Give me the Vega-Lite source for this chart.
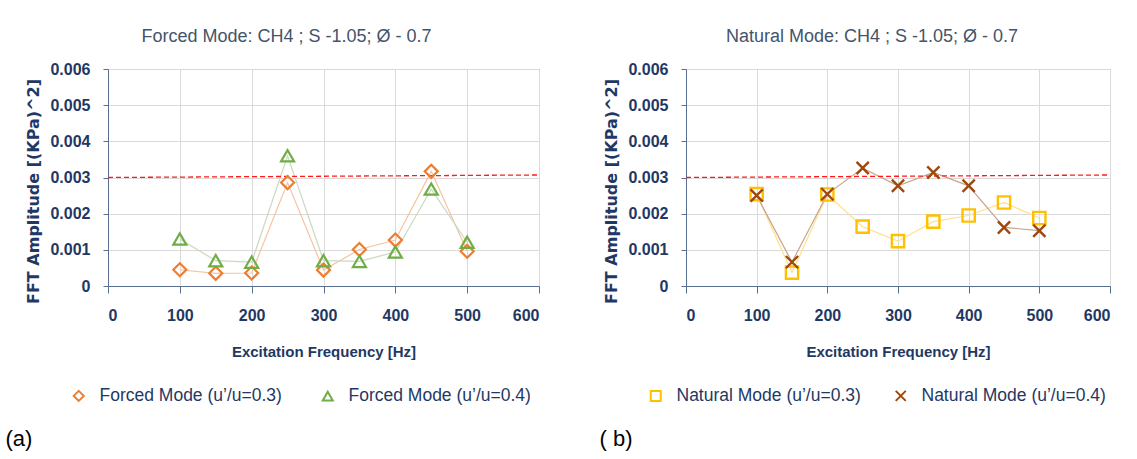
{
  "$schema": "https://vega.github.io/schema/vega-lite/v6.json",
  "background": "white",
  "padding": {"left": 5, "top": 27, "right": 5, "bottom": 2},
  "datasets": {
    "pts": [
      {"panel": "a", "series": "Forced Mode (u’/u=0.3)", "freq": 100, "amp": 0.00045},
      {"panel": "a", "series": "Forced Mode (u’/u=0.3)", "freq": 150, "amp": 0.00035},
      {"panel": "a", "series": "Forced Mode (u’/u=0.3)", "freq": 200, "amp": 0.00036},
      {"panel": "a", "series": "Forced Mode (u’/u=0.3)", "freq": 250, "amp": 0.00286},
      {"panel": "a", "series": "Forced Mode (u’/u=0.3)", "freq": 300, "amp": 0.00044},
      {"panel": "a", "series": "Forced Mode (u’/u=0.3)", "freq": 350, "amp": 0.00101},
      {"panel": "a", "series": "Forced Mode (u’/u=0.3)", "freq": 400, "amp": 0.00127},
      {"panel": "a", "series": "Forced Mode (u’/u=0.3)", "freq": 450, "amp": 0.00317},
      {"panel": "a", "series": "Forced Mode (u’/u=0.3)", "freq": 500, "amp": 0.00096},
      {"panel": "a", "series": "Forced Mode (u’/u=0.4)", "freq": 100, "amp": 0.0013},
      {"panel": "a", "series": "Forced Mode (u’/u=0.4)", "freq": 150, "amp": 0.0007},
      {"panel": "a", "series": "Forced Mode (u’/u=0.4)", "freq": 200, "amp": 0.00066},
      {"panel": "a", "series": "Forced Mode (u’/u=0.4)", "freq": 250, "amp": 0.0036},
      {"panel": "a", "series": "Forced Mode (u’/u=0.4)", "freq": 300, "amp": 0.0007},
      {"panel": "a", "series": "Forced Mode (u’/u=0.4)", "freq": 350, "amp": 0.00068},
      {"panel": "a", "series": "Forced Mode (u’/u=0.4)", "freq": 400, "amp": 0.00094},
      {"panel": "a", "series": "Forced Mode (u’/u=0.4)", "freq": 450, "amp": 0.00268},
      {"panel": "a", "series": "Forced Mode (u’/u=0.4)", "freq": 500, "amp": 0.00121},
      {"panel": "b", "series": "Natural Mode (u’/u=0.3)", "freq": 100, "amp": 0.00254},
      {"panel": "b", "series": "Natural Mode (u’/u=0.3)", "freq": 150, "amp": 0.00037},
      {"panel": "b", "series": "Natural Mode (u’/u=0.3)", "freq": 200, "amp": 0.00253},
      {"panel": "b", "series": "Natural Mode (u’/u=0.3)", "freq": 250, "amp": 0.00164},
      {"panel": "b", "series": "Natural Mode (u’/u=0.3)", "freq": 300, "amp": 0.00124},
      {"panel": "b", "series": "Natural Mode (u’/u=0.3)", "freq": 350, "amp": 0.00178},
      {"panel": "b", "series": "Natural Mode (u’/u=0.3)", "freq": 400, "amp": 0.00195},
      {"panel": "b", "series": "Natural Mode (u’/u=0.3)", "freq": 450, "amp": 0.00231},
      {"panel": "b", "series": "Natural Mode (u’/u=0.3)", "freq": 500, "amp": 0.00188},
      {"panel": "b", "series": "Natural Mode (u’/u=0.4)", "freq": 100, "amp": 0.0025},
      {"panel": "b", "series": "Natural Mode (u’/u=0.4)", "freq": 150, "amp": 0.00066},
      {"panel": "b", "series": "Natural Mode (u’/u=0.4)", "freq": 200, "amp": 0.00254},
      {"panel": "b", "series": "Natural Mode (u’/u=0.4)", "freq": 250, "amp": 0.00326},
      {"panel": "b", "series": "Natural Mode (u’/u=0.4)", "freq": 300, "amp": 0.00277},
      {"panel": "b", "series": "Natural Mode (u’/u=0.4)", "freq": 350, "amp": 0.00314},
      {"panel": "b", "series": "Natural Mode (u’/u=0.4)", "freq": 400, "amp": 0.00277},
      {"panel": "b", "series": "Natural Mode (u’/u=0.4)", "freq": 450, "amp": 0.00162},
      {"panel": "b", "series": "Natural Mode (u’/u=0.4)", "freq": 500, "amp": 0.00153}
    ],
    "ref": [
      {"freq": 0, "freq2": 600, "amp": 0.003, "amp2": 0.00307}
    ]
  },
  "config": {
    "font": "Liberation Sans, Arial, sans-serif",
    "view": {"stroke": "#8EA0BE", "strokeWidth": 1},
    "axis": {
      "labelFont": "Liberation Sans, Arial, sans-serif",
      "labelFontSize": 16,
      "labelFontWeight": "bold",
      "labelColor": "#1F3864",
      "labelOverlap": false,
      "titleFont": "Liberation Sans, Arial, sans-serif",
      "titleFontSize": 15,
      "titleFontWeight": "bold",
      "titleColor": "#1F3864",
      "domainColor": "#5A6E92",
      "tickColor": "#5A6E92",
      "gridColor": "#DADADA"
    },
    "axisX": {"tickSize": 7, "labelPadding": 14, "titlePadding": 21},
    "axisY": {"tickSize": 5, "labelPadding": 13, "titlePadding": 8, "titleFont": "DejaVu Sans", "titleFontSize": 16},
    "legend": {
      "labelFont": "Liberation Sans, Arial, sans-serif",
      "labelFontSize": 17.5,
      "labelColor": "#1F3864",
      "labelLimit": 300,
      "labelOffset": 12,
      "symbolStrokeWidth": 2,
      "symbolSize": 100
    },
    "title": {
      "font": "Liberation Sans, Arial, sans-serif",
      "fontSize": 18,
      "fontWeight": "normal",
      "color": "#44546A"
    }
  },
  "spacing": 58,
  "hconcat": [
    {
      "title": {"text": "(a)", "orient": "bottom", "anchor": "start", "frame": "bounds", "fontSize": 22, "color": "#000000", "offset": 24, "dx": -20},
      "vconcat": [
        {
          "width": 431,
          "height": 217,
          "title": {"text": "Forced Mode: CH4 ; S -1.05; Ø - 0.7", "dx": -37, "offset": 15},
          "encoding": {
            "x": {"field": "freq", "type": "quantitative", "scale": {"domain": [0, 600]}, "axis": {"values": [0, 100, 200, 300, 400, 500, 600], "title": "Excitation Frequency [Hz]"}},
            "y": {"field": "amp", "type": "quantitative", "scale": {"domain": [0, 0.006]}, "axis": {"values": [0, 0.001, 0.002, 0.003, 0.004, 0.005, 0.006], "labelExpr": "datum.value == 0 ? '0' : format(datum.value, '.3f')", "title": "FFT Amplitude  [(KPa)^2]", "titleY": 122}}
          },
          "layer": [
            {
              "data": {"name": "pts"},
              "transform": [{"filter": "datum.series == 'Forced Mode (u’/u=0.3)'"}],
              "mark": {"type": "line", "strokeWidth": 1.2, "color": "#F6C3A2"},
              "encoding": {}
            },
            {
              "data": {"name": "pts"},
              "transform": [{"filter": "datum.series == 'Forced Mode (u’/u=0.4)'"}],
              "mark": {"type": "line", "strokeWidth": 1.2, "color": "#C9D9BE"},
              "encoding": {}
            },
            {
              "data": {"name": "ref"},
              "mark": {"type": "rule", "color": "#FF1A1A", "strokeDash": [5, 3], "strokeWidth": 1.3},
              "encoding": {
                "x2": {"field": "freq2"},
                "y2": {"field": "amp2"}
              }
            },
            {
              "data": {"name": "pts"},
              "transform": [{"filter": "datum.panel == 'a'"}],
              "mark": {"type": "point", "filled": false, "strokeWidth": 2.2, "size": 170, "opacity": 1},
              "encoding": {
                "stroke": {"field": "series", "type": "nominal", "scale": {"domain": ["Forced Mode (u’/u=0.3)", "Forced Mode (u’/u=0.4)"], "range": ["#ED7D31", "#70AD47"]}, "legend": {"title": null, "orient": "none", "direction": "horizontal", "legendX": -38, "legendY": 318, "columnPadding": 36}},
                "shape": {"field": "series", "type": "nominal", "scale": {"domain": ["Forced Mode (u’/u=0.3)", "Forced Mode (u’/u=0.4)"], "range": ["diamond", "triangle-up"]}, "legend": {"title": null, "orient": "none", "direction": "horizontal", "legendX": -38, "legendY": 318, "columnPadding": 36}}
              }
            }
          ]
        }
      ]
    },
    {
      "title": {"text": "( b)", "orient": "bottom", "anchor": "start", "frame": "bounds", "fontSize": 22, "color": "#000000", "offset": 24, "dx": -4},
      "vconcat": [
        {
          "width": 424,
          "height": 217,
          "title": {"text": "Natural Mode: CH4 ; S -1.05; Ø - 0.7", "dx": -26, "offset": 15},
          "encoding": {
            "x": {"field": "freq", "type": "quantitative", "scale": {"domain": [0, 600]}, "axis": {"values": [0, 100, 200, 300, 400, 500, 600], "title": "Excitation Frequency [Hz]"}},
            "y": {"field": "amp", "type": "quantitative", "scale": {"domain": [0, 0.006]}, "axis": {"values": [0, 0.001, 0.002, 0.003, 0.004, 0.005, 0.006], "labelExpr": "datum.value == 0 ? '0' : format(datum.value, '.3f')", "title": "FFT Amplitude  [(KPa)^2]", "titleY": 122}}
          },
          "layer": [
            {
              "data": {"name": "pts"},
              "transform": [{"filter": "datum.series == 'Natural Mode (u’/u=0.3)'"}],
              "mark": {"type": "line", "strokeWidth": 1.2, "color": "#FFE08A"},
              "encoding": {}
            },
            {
              "data": {"name": "pts"},
              "transform": [{"filter": "datum.series == 'Natural Mode (u’/u=0.4)'"}],
              "mark": {"type": "line", "strokeWidth": 1.2, "color": "#C8A58D"},
              "encoding": {}
            },
            {
              "data": {"name": "ref"},
              "mark": {"type": "rule", "color": "#FF1A1A", "strokeDash": [5, 3], "strokeWidth": 1.3},
              "encoding": {
                "x2": {"field": "freq2"},
                "y2": {"field": "amp2"}
              }
            },
            {
              "data": {"name": "pts"},
              "transform": [{"filter": "datum.panel == 'b'"}],
              "mark": {"type": "point", "filled": false, "strokeWidth": 2.4, "size": 150, "opacity": 1},
              "encoding": {
                "stroke": {"field": "series", "type": "nominal", "scale": {"domain": ["Natural Mode (u’/u=0.3)", "Natural Mode (u’/u=0.4)"], "range": ["#FFC000", "#9E480E"]}, "legend": {"title": null, "orient": "none", "direction": "horizontal", "legendX": -39, "legendY": 318, "columnPadding": 30}},
                "shape": {"field": "series", "type": "nominal", "scale": {"domain": ["Natural Mode (u’/u=0.3)", "Natural Mode (u’/u=0.4)"], "range": ["square", "M-1,-1L1,1M1,-1L-1,1"]}, "legend": {"title": null, "orient": "none", "direction": "horizontal", "legendX": -39, "legendY": 318, "columnPadding": 30}}
              }
            }
          ]
        }
      ]
    }
  ],
  "resolve": {"scale": {"stroke": "independent", "shape": "independent"}}
}
